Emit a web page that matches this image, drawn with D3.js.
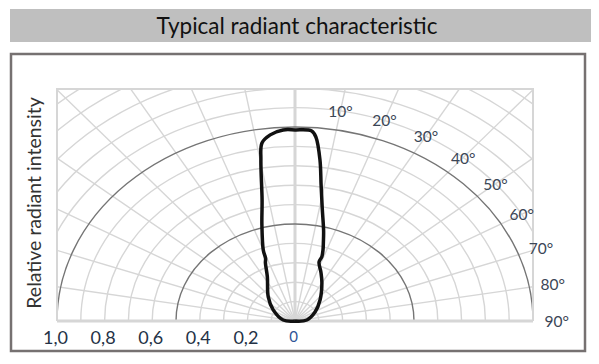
<!DOCTYPE html>
<html>
<head>
<meta charset="utf-8">
<script src="https://cdn.jsdelivr.net/npm/d3@7"></script>
<style>
  body { margin: 0; background: #fff; }
  svg { display: block; font-family: Lato, "Open Sans", sans-serif; }
</style>
</head>
<body>
<script>
(function(){

//chart values
var titleText = "Typical radiant characteristic";
var yLabelText = "Relative radiant intensity";
var tickValues = [1.0, 0.8, 0.6, 0.4, 0.2, 0];
var tickLabels = ["1,0", "0,8", "0,6", "0,4", "0,2", "0"];
var angleLabels = [10, 20, 30, 40, 50, 60, 70, 80, 90];
var ringValues = [0.1, 0.2, 0.3, 0.4, 0.5, 0.6, 0.7, 0.8, 0.9, 1.0, 1.1, 1.2, 1.3, 1.4, 1.5, 1.6];
var spokeAngles = [-90, -80, -70, -60, -50, -40, -30, -20, -10, 0, 10, 20, 30, 40, 50, 60, 70, 80, 90];

//radiation pattern: angle (deg) and relative intensity
var curveAngle = [-90, -84, -58, -42, -27, -22.5, -21, -20, -15.7, -12.5, -9.8, -8.6, -6.2, -2.9, 0,
                  4.1, 5.3, 7.2, 8.9, 11.2, 14.5, 16.3, 17.8, 18.8, 18.4, 23.3, 30, 44.2, 61.3, 84, 90];
var curveValue = [0, 0.05, 0.108, 0.168, 0.256, 0.325, 0.345, 0.39, 0.514, 0.639, 0.842, 0.928, 0.965, 0.986, 0.985,
                  0.982, 0.952, 0.837, 0.709, 0.59, 0.48, 0.425, 0.385, 0.35, 0.32, 0.275, 0.226, 0.151, 0.096, 0.05, 0];

var width = 599, height = 364;
var cx = 295, cy = 321;
var plot = {left: 57, top: 89, right: 533, bottom: 321};

var svg = d3.select("body").append("svg")
    .attr("width", width)
    .attr("height", height);

//title bar
svg.append("rect")
    .attr("x", 10).attr("y", 9)
    .attr("width", 581).attr("height", 33)
    .attr("fill", "#bfbfbf");
svg.append("text")
    .attr("x", 297).attr("y", 33.5)
    .attr("text-anchor", "middle")
    .attr("font-size", 22.5)
    .attr("fill", "#111")
    .text(titleText);

//outer frame
svg.append("rect")
    .attr("x", 11).attr("y", 54)
    .attr("width", 574).attr("height", 297)
    .attr("fill", "none")
    .attr("stroke", "#767171")
    .attr("stroke-width", 2.5);

//scales: horizontal and vertical radius differ (stretched polar grid)
var x = d3.scaleLinear().domain([-1, 1]).range([cx - 238, cx + 238]);
var y = d3.scaleLinear().domain([0, 1]).range([cy, cy - 194]);

function px(a, r){ return x(r * Math.sin(a * Math.PI / 180)); }
function py(a, r){ return y(r * Math.cos(a * Math.PI / 180)); }

svg.append("clipPath").attr("id", "plotClip")
  .append("rect")
    .attr("x", plot.left).attr("y", plot.top)
    .attr("width", plot.right - plot.left).attr("height", plot.bottom - plot.top);

var grid = svg.append("g").attr("clip-path", "url(#plotClip)");

//rings
grid.selectAll(".ring")
    .data(ringValues.filter(function(d){ return d !== 0.5 && d !== 1.0; }))
    .enter().append("ellipse")
    .attr("class", "ring")
    .attr("cx", cx).attr("cy", cy)
    .attr("rx", function(d){ return x(d) - cx; })
    .attr("ry", function(d){ return cy - y(d); })
    .attr("fill", "none")
    .attr("stroke", "#d6d6d6")
    .attr("stroke-width", 1.4);

//spokes
grid.selectAll(".spoke")
    .data(spokeAngles)
    .enter().append("line")
    .attr("class", "spoke")
    .attr("x1", cx).attr("y1", cy)
    .attr("x2", function(d){ return px(d, 3); })
    .attr("y2", function(d){ return py(d, 3); })
    .attr("stroke", "#d6d6d6")
    .attr("stroke-width", function(d){ return d === 0 ? 3 : 1.4; });

//dark rings at 0.5 and 1.0
grid.selectAll(".mainRing")
    .data([0.5, 1.0])
    .enter().append("ellipse")
    .attr("class", "mainRing")
    .attr("cx", cx).attr("cy", cy)
    .attr("rx", function(d){ return x(d) - cx; })
    .attr("ry", function(d){ return cy - y(d); })
    .attr("fill", "none")
    .attr("stroke", "#757575")
    .attr("stroke-width", 1.4);

//plot border and baseline
svg.append("path")
    .attr("d", "M" + plot.left + "," + plot.bottom + "V" + plot.top + "H" + plot.right + "V" + plot.bottom)
    .attr("fill", "none")
    .attr("stroke", "#d6d6d6")
    .attr("stroke-width", 2);
svg.append("line")
    .attr("x1", plot.left).attr("x2", plot.right)
    .attr("y1", cy).attr("y2", cy)
    .attr("stroke", "#d6d6d6")
    .attr("stroke-width", 3);

//radiation curve
var line = d3.line()
    .x(function(d){ return px(d[0], d[1]); })
    .y(function(d){ return py(d[0], d[1]); })
    .curve(d3.curveCatmullRom);

svg.append("path")
    .datum(d3.zip(curveAngle, curveValue))
    .attr("d", line)
    .attr("fill", "none")
    .attr("stroke", "#111")
    .attr("stroke-width", 3.5)
    .attr("stroke-linejoin", "round");

//bottom axis (intensity)
var xl = d3.scaleLinear().domain([1, 0]).range([x(-1), cx]);
var axis = svg.append("g")
    .attr("transform", "translate(-2," + (cy + 7) + ")")
    .call(d3.axisBottom(xl)
        .tickValues(tickValues)
        .tickSize(0)
        .tickFormat(function(d, i){ return tickLabels[i]; }));
axis.select(".domain").remove();
axis.selectAll("text")
    .attr("font-family", "Lato, 'Open Sans', sans-serif")
    .attr("font-size", function(d){ return d === 0 ? 15 : 18; })
    .attr("fill", function(d){ return d === 0 ? "#2f5597" : "#243246"; });

//angle labels
svg.selectAll(".angleLabel")
    .data(angleLabels)
    .enter().append("text")
    .attr("class", "angleLabel")
    .attr("x", function(d){ return px(d, 1.1); })
    .attr("y", function(d){ return py(d, 1.1); })
    .attr("text-anchor", "middle")
    .attr("dominant-baseline", "central")
    .attr("font-size", 15.5)
    .attr("fill", "#3b4656")
    .text(function(d){ return d + "°"; });

//y label
svg.append("text")
    .attr("transform", "translate(41,203) rotate(-90)")
    .attr("text-anchor", "middle")
    .attr("font-size", 19.5)
    .attr("fill", "#333")
    .text(yLabelText);

})();
</script>
</body>
</html>
